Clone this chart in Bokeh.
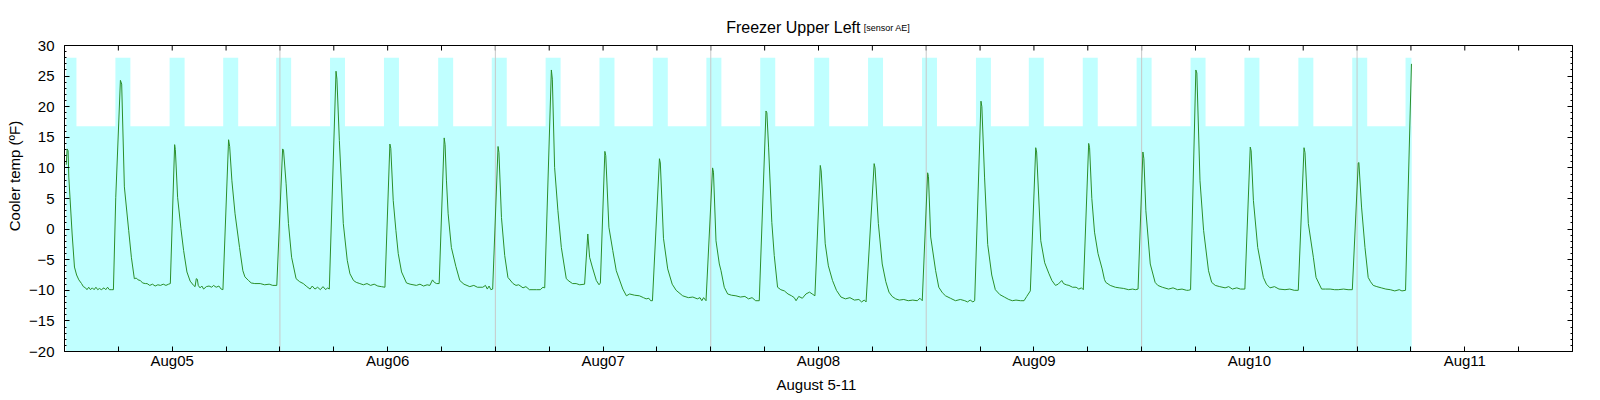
from bokeh.plotting import figure
from bokeh.models import Range1d, LinearAxis, FixedTicker, SingleIntervalTicker, Title, Label, Span, CustomJSTickFormatter
from bokeh.embed import file_html
from bokeh.resources import INLINE

# Data section ################################################################
# hours since Aug05 00:00, freezer temperature in F

hours = [
    0.19, 0.30, 0.40, 0.48, 0.85, 1.11, 1.35, 1.60, 1.90, 2.10, 2.34, 2.50, 2.70, 2.90, 3.10, 3.30, 3.50, 3.70, 3.90, 4.10, 4.40, 4.60, 4.80, 5.00, 5.20, 5.45, 5.71,
    6.23, 6.37, 6.67, 7.15, 7.45, 7.78, 8.00, 8.20, 8.45, 8.70, 9.00, 9.20, 9.50, 9.80, 10.10, 10.40, 10.70, 11.00, 11.30, 11.60, 11.79,
    12.27, 12.35, 12.60, 12.97, 13.27, 13.64, 14.00, 14.38, 14.55, 14.68, 14.80, 14.90, 15.10, 15.30, 15.50, 15.80, 16.10, 16.40, 16.60, 16.90, 17.20, 17.45, 17.65,
    18.28, 18.40, 18.65, 19.00, 19.50, 19.87, 20.10, 20.50, 20.80, 21.20, 21.80, 22.30, 22.80, 23.20, 23.65,
    24.30, 24.40, 24.69, 24.95, 25.30, 25.80, 26.20, 26.60, 27.00, 27.36, 27.60, 27.90, 28.20, 28.50, 28.80, 29.10, 29.30, 29.50,
    30.25, 30.35, 30.62, 31.06, 31.50, 31.80, 32.20, 32.50, 32.90, 33.30, 33.70, 34.10, 34.50, 34.90, 35.30, 35.70,
    36.25, 36.35, 36.62, 36.92, 37.18, 37.55, 38.10, 38.50, 39.20, 39.60, 40.00, 40.40, 40.70, 41.00, 41.20, 41.45, 41.74,
    42.30, 42.40, 42.55, 42.74, 43.10, 43.60, 44.04, 44.50, 45.15, 45.60, 46.00, 46.60, 46.90, 47.10, 47.30, 47.50, 47.70,
    48.30, 48.40, 48.68, 49.04, 49.40, 49.97, 50.30, 50.60, 51.08, 51.40, 51.80, 52.20, 52.60, 53.00, 53.30, 53.50,
    54.24, 54.35, 54.60, 54.97, 55.35, 55.90, 56.20, 56.60, 57.00, 57.40, 57.94, 58.30, 58.50, 58.80, 59.25, 59.55, 59.70,
    60.20, 60.30, 60.65, 61.08, 61.47, 62.20, 62.60, 62.96, 63.50, 64.05, 64.50, 64.80, 65.10, 65.30, 65.50,
    66.28, 66.38, 66.73, 67.20, 67.70, 68.14, 68.87, 69.50, 70.00, 70.50, 70.80, 71.00, 71.20, 71.47,
    72.20, 72.30, 72.58, 72.95, 73.14, 73.50, 73.88, 74.30, 74.80, 75.30, 75.80, 76.20, 76.60, 77.00, 77.40,
    78.15, 78.25, 78.44, 78.80, 79.07, 79.44, 79.80, 80.20, 80.60, 81.00, 81.30, 81.50, 81.80, 82.20, 82.60, 83.00, 83.30, 83.60,
    84.20, 84.30, 84.75, 85.10, 85.56, 86.00, 86.50, 87.00, 87.50, 88.00, 88.50, 88.80, 89.10, 89.30,
    90.20, 90.30, 90.67, 91.10, 91.50, 91.85, 92.20, 92.60, 93.00, 93.50, 94.00, 94.50, 95.00, 95.30, 95.56,
    96.16, 96.25, 96.50, 97.05, 97.40, 97.80, 98.15, 98.70, 99.26, 99.80, 100.30, 100.60, 100.90, 101.20, 101.40,
    102.10, 102.20, 102.50, 102.85, 103.30, 103.70, 104.20, 104.70, 105.20, 105.60, 106.00, 106.50, 106.90, 107.20, 107.60,
    108.20, 108.30, 108.76, 109.20, 109.65, 110.00, 110.40, 110.70, 111.10, 111.30, 111.60, 111.90, 112.30, 112.70, 113.00, 113.30, 113.50,
    114.10, 114.20, 114.45, 114.75, 115.14, 115.60, 115.85, 116.00, 116.50, 117.07, 117.50, 118.00, 118.55, 119.00, 119.30, 119.60,
    120.14, 120.25, 120.47, 120.96, 121.50, 121.80, 122.30, 123.00, 123.50, 124.00, 124.50, 125.00, 125.20, 125.45,
    126.04, 126.15, 126.50, 126.90, 127.45, 127.80, 128.20, 128.70, 129.30, 129.70, 130.10, 130.60, 131.00, 131.50,
    132.10, 132.20, 132.45, 132.93, 133.56, 133.90, 134.30, 134.80, 135.30, 135.97, 136.50, 137.00, 137.45,
    138.09, 138.20, 138.57, 139.13, 139.43, 140.05, 140.50, 141.00, 141.50, 141.90, 142.50, 143.00, 143.47,
    144.13, 144.20, 144.50, 144.88, 145.24, 145.50, 145.80, 146.20, 146.70, 147.20, 147.70, 148.20, 148.70, 149.00, 149.40, 150.06,
]

temp_f = [
    10.5, 13.1, 12.8, 8.5, -0.8, -6.2, -7.5, -8.3, -8.9, -9.4, -9.6, -9.9, -9.5, -9.9, -9.6, -9.9, -9.5, -9.9, -9.7, -9.9, -9.6, -9.9, -9.5, -9.9, -9.9, -9.9, 5.2,
    24.3, 23.7, 6.9, -0.2, -4.6, -8.1, -8.0, -8.3, -8.4, -8.8, -8.9, -8.9, -9.2, -9.0, -9.3, -9.1, -9.2, -9.0, -9.2, -9.0, -8.9,
    13.8, 13.0, 5.2, 0.1, -3.5, -7.0, -8.5, -9.2, -9.4, -8.1, -8.2, -9.2, -9.6, -9.3, -9.8, -9.4, -9.3, -9.5, -9.2, -9.5, -9.3, -9.8, -9.9,
    14.6, 13.5, 7.9, 2.5, -3.0, -6.8, -7.8, -8.4, -8.8, -8.9, -8.9, -9.1, -9.0, -9.2, -9.2,
    13.1, 12.9, 7.4, 0.9, -4.6, -8.1, -8.6, -8.9, -9.4, -9.8, -9.3, -9.8, -9.5, -9.9, -9.4, -9.9, -9.6, -9.8,
    25.8, 24.5, 14.5, 0.9, -5.1, -7.3, -8.4, -8.7, -8.9, -9.1, -8.9, -9.2, -9.0, -9.3, -9.4, -9.5,
    13.9, 13.2, 4.7, -0.2, -4.0, -7.0, -8.8, -9.0, -9.2, -9.0, -9.3, -9.1, -9.2, -8.3, -8.7, -8.9, -8.9,
    14.9, 13.8, 8.0, 2.5, -3.0, -6.1, -8.4, -9.0, -9.4, -9.2, -9.5, -9.5, -9.2, -9.8, -9.3, -9.9, -9.8,
    13.5, 12.5, 1.9, -4.3, -7.9, -8.9, -9.2, -9.1, -9.6, -9.4, -9.9, -9.9, -9.9, -9.9, -9.5, -9.6,
    26.0, 24.5, 10.1, 3.0, -3.0, -8.1, -8.5, -8.9, -8.9, -9.1, -9.0, -0.8, -4.6, -6.2, -8.4, -9.1, -8.8,
    12.7, 12.0, 0.3, -3.5, -6.8, -9.8, -10.9, -10.6, -10.8, -10.9, -11.2, -11.4, -11.3, -11.7, -11.7,
    11.5, 10.8, -1.5, -6.5, -9.0, -10.0, -10.9, -11.2, -11.1, -11.4, -11.2, -11.7, -11.2, -11.7,
    10.0, 9.3, -1.9, -5.7, -6.8, -9.5, -10.6, -10.8, -10.9, -11.1, -11.0, -11.4, -11.2, -11.7, -11.7,
    19.3, 19.0, 13.4, 1.1, -4.3, -9.5, -9.9, -10.1, -10.6, -10.9, -11.2, -11.7, -11.0, -11.3, -10.6, -10.3, -10.6, -10.9,
    10.4, 9.5, -2.4, -6.0, -8.4, -10.0, -11.1, -11.4, -11.2, -11.6, -11.5, -11.9, -11.6, -11.9,
    10.7, 10.0, 0.9, -5.7, -8.6, -10.3, -11.0, -11.4, -11.6, -11.5, -11.7, -11.6, -11.7, -11.3, -11.7,
    9.2, 8.6, -1.3, -6.8, -9.5, -10.4, -10.9, -11.3, -11.7, -11.5, -11.7, -11.9, -11.6, -11.9, -11.7,
    20.9, 20.0, 8.5, -2.5, -7.5, -9.9, -10.7, -11.1, -11.5, -11.7, -11.6, -11.7, -11.7, -11.0, -10.1,
    13.3, 12.6, -1.9, -5.5, -7.2, -8.4, -9.2, -9.0, -8.4, -8.9, -9.1, -9.2, -9.5, -9.5, -9.8, -9.6, -9.9,
    14.0, 13.3, 5.0, -0.5, -4.0, -6.5, -8.2, -8.7, -9.2, -9.5, -9.6, -9.7, -9.9, -9.8, -9.9, -9.8,
    12.6, 11.5, 3.0, -5.7, -8.7, -9.2, -9.5, -9.8, -9.6, -9.9, -9.8, -10.0, -10.0, -9.9,
    26.0, 25.5, 7.9, -0.2, -6.8, -8.7, -9.2, -9.4, -9.6, -9.4, -9.8, -9.6, -9.8, -9.8,
    13.4, 12.8, 4.7, -3.0, -7.9, -9.0, -9.6, -9.4, -9.8, -9.9, -9.8, -10.0, -10.0,
    13.3, 12.5, 0.9, -4.6, -7.9, -9.8, -9.8, -9.8, -9.9, -9.9, -9.8, -9.9, -9.9,
    10.8, 10.9, 3.6, -3.0, -7.9, -8.6, -9.2, -9.4, -9.6, -9.8, -9.9, -10.1, -9.9, -10.1, -10.0, 27.0,
]

# defrost periods (hours), shown as the taller cyan band
defrost_start = [0.19, 5.67, 11.71, 17.68, 23.58, 29.58, 35.59, 41.63, 47.60, 53.60, 59.60, 65.54, 71.51,
                 77.51, 83.52, 89.52, 95.53, 101.54, 107.43, 113.44, 119.44, 125.45, 131.45, 137.46, 143.46, 149.40]
defrost_end = [1.33, 7.34, 13.38, 19.35, 25.25, 31.25, 37.26, 43.30, 49.27, 55.27, 61.27, 67.21, 73.18,
               79.18, 85.19, 91.19, 97.20, 103.21, 109.10, 115.11, 121.11, 127.12, 133.12, 139.13, 145.13, 150.06]
defrost_level = 28.0
normal_level = 16.8

midnights = [24, 48, 72, 96, 120, 144]
x_ticks = [0, 6, 12, 18, 24, 30, 36, 42, 48, 54, 60, 66, 72, 78, 84, 90, 96, 102, 108, 114, 120, 126, 132, 138, 144, 150, 156, 162, 168]
x_label_pos = [12, 36, 60, 84, 108, 132, 156]
x_labels = ["Aug05", "Aug06", "Aug07", "Aug08", "Aug09", "Aug10", "Aug11"]

assert len(hours) == len(temp_f)

# Plot section ################################################################

font = "Liberation Sans"
fill_color = "#c0ffff"
line_color = "#2a8f2a"

y_min, y_max = -20, 30
# the frame runs up to the top of the page, so the title can sit inside it;
# 45 px of headroom above the y = 30 border at 306 px per 50 degrees
y_head = 45 * (y_max - y_min) / 306.0

p = figure(width = 1600, height = 400, x_range = Range1d(0, 168), y_range = Range1d(y_min, y_max + y_head),
           x_axis_type = None, y_axis_type = None, output_backend = "svg", toolbar_location = None,
           title = None, min_border_left = 64, min_border_right = 28, min_border_top = 0, min_border_bottom = 49)
p.outline_line_color = None
p.background_fill_color = "white"
p.border_fill_color = "white"

blank = CustomJSTickFormatter(code = "return ''")

def style_axis(ax):
    ax.axis_line_color = "black"
    ax.major_tick_line_color = "black"
    ax.minor_tick_line_color = "black"
    ax.major_tick_in = 5
    ax.major_tick_out = 0
    ax.minor_tick_in = 2
    ax.minor_tick_out = 0
    ax.major_label_text_font = font
    ax.major_label_text_font_size = "15px"
    ax.major_label_text_color = "black"
    ax.axis_label_text_font = font
    ax.axis_label_text_font_size = "15px"
    ax.axis_label_text_font_style = "normal"
    ax.axis_label_text_color = "black"

overrides = {t: "" for t in x_ticks}
for pos, lab in zip(x_label_pos, x_labels):
    overrides[pos] = lab

xaxis = LinearAxis(ticker = FixedTicker(ticks = x_ticks, minor_ticks = []), axis_label = "August  5-11")
style_axis(xaxis)
xaxis.major_label_overrides = overrides
xaxis.major_label_standoff = 0
xaxis.axis_label_standoff = 4
p.add_layout(xaxis, "below")

yaxis = LinearAxis(ticker = SingleIntervalTicker(interval = 5, num_minor_ticks = 5), bounds = (y_min, y_max))
style_axis(yaxis)
yaxis.major_label_standoff = 10
p.add_layout(yaxis, "left")

right_axis = LinearAxis(ticker = SingleIntervalTicker(interval = 5, num_minor_ticks = 5), formatter = blank,
                        bounds = (y_min, y_max))
style_axis(right_axis)
right_axis.major_label_standoff = 0
p.add_layout(right_axis, "right")

# y label as a left title, moved down to the centre of the -20..30 box
p.add_layout(Title(text = "Cooler temp (ºF)", text_font = font, text_font_size = "15px", text_font_style = "normal",
                   text_color = "black", align = "center", offset = -22, standoff = 7), "left")

# top border of the box and its tick marks
p.add_layout(Span(location = y_max, dimension = "width", line_color = "black", line_width = 1))
p.ray(x = x_ticks, y = y_max, length = 5, length_units = "screen", angle = -90, angle_units = "deg",
      line_color = "black", line_width = 1)

# cyan band: base level over the whole record, taller during defrost
p.quad(left = [hours[0]], right = [hours[-1]], bottom = y_min, top = normal_level,
       fill_color = fill_color, line_color = None)
p.quad(left = defrost_start, right = defrost_end, bottom = y_min, top = defrost_level,
       fill_color = fill_color, line_color = None)

p.segment(x0 = midnights, y0 = y_min, x1 = midnights, y1 = y_max, line_color = "#c8c8c8", line_width = 1)

p.line(hours, temp_f, line_color = line_color, line_width = 1)

# title, with the sensor tag in small type on the same baseline
title_y = y_max + (45 - 27.3) * (y_max - y_min) / 306.0
p.add_layout(Label(x = 73.72, y = title_y, text = "Freezer Upper Left", text_font = font,
                   text_font_size = "16px", text_color = "black", text_baseline = "alphabetic"))
p.add_layout(Label(x = 89.05, y = title_y, text = "[sensor AE]", text_font = font,
                   text_font_size = "9px", text_color = "black", text_baseline = "alphabetic"))

open("out.html", "w").write(file_html(p, INLINE))
